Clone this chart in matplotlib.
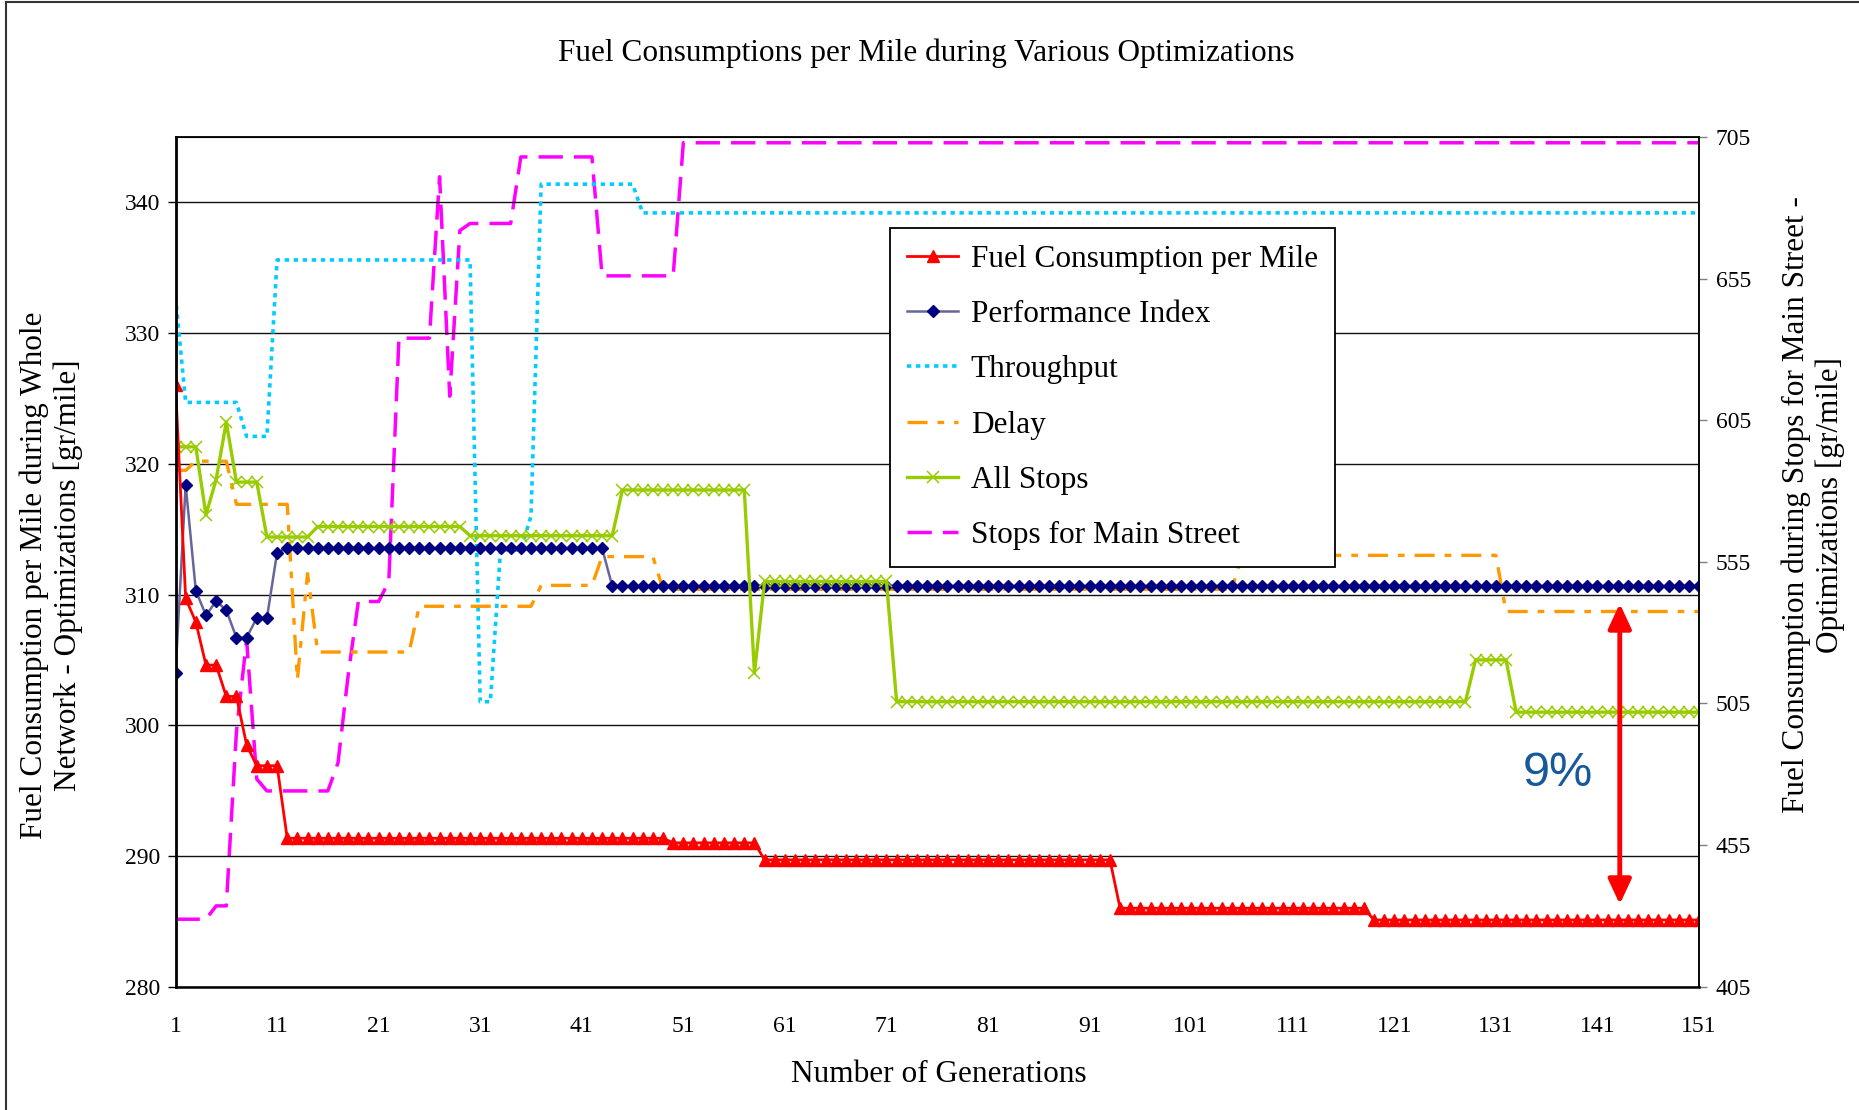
import numpy as np
import matplotlib.pyplot as plt
from matplotlib.lines import Line2D
from matplotlib.patches import FancyArrowPatch

plt.rcParams['font.family'] = ['Liberation Serif', 'DejaVu Serif']

# ---------- data: (value, number of generations) ----------
gens = np.arange(1, 152)

fuel_runs = [(326.0, 1), (309.7, 1), (307.9, 1), (304.6, 2), (302.2, 2), (298.5, 1),
             (296.9, 3), (291.35, 38), (291.0, 9), (289.7, 35), (286.0, 25), (285.1, 33)]

perf_runs = [(304.0, 1), (318.4, 1), (310.3, 1), (308.4, 1), (309.5, 1), (308.8, 1),
             (306.7, 2), (308.2, 2), (313.2, 1), (313.55, 32), (310.65, 108)]

thru_runs = [(332.8, 1), (324.7, 6), (322.1, 3), (335.6, 20), (301.8, 2), (313.4, 3),
             (316.0, 1), (341.4, 10), (339.2, 105)]

delay_runs = [(319.5, 2), (320.2, 4), (316.9, 6), (303.5, 1), (311.6, 1), (305.6, 10),
              (309.1, 12), (310.7, 6), (312.9, 6), (310.4, 57), (313.0, 26), (308.7, 20)]

stops_runs = [(321.3, 3), (316.1, 1), (318.8, 1), (323.2, 1), (318.6, 3), (314.4, 5),
              (315.2, 15), (314.5, 15), (318.0, 13), (304.0, 1), (311.0, 13), (301.8, 57),
              (305.0, 4), (301.0, 19)]

# secondary axis (right)
main_runs = [(428.8, 4), (433.5, 2), (495.0, 1), (527.5, 1), (478.3, 1), (474.1, 7),
             (484.0, 1), (515.0, 1), (541.0, 3), (548.0, 1), (634.0, 4), (691.0, 1),
             (613.5, 1), (672.0, 1), (674.5, 5), (698.0, 8), (656.0, 8), (703.0, 101)]


def expand(runs):
    vals, counts = zip(*runs)
    return np.repeat(vals, counts)


fuel = expand(fuel_runs)
perf = expand(perf_runs)
thru = expand(thru_runs)
delay = expand(delay_runs)
stops = expand(stops_runs)
main_st = expand(main_runs)

W, H = 1859, 1110
FS = 22.5
fig = plt.figure(figsize=(W / 100, H / 100), dpi=100)
ax = fig.add_axes([175.5 / W, 1 - 986.6 / H, (1699 - 175.5) / W, (986.6 - 137.1) / H])
ax2 = ax.twinx()
ax.set_zorder(ax2.get_zorder() + 1)
ax.patch.set_visible(False)

# secondary series (drawn below the others)
l_main, = ax2.plot(gens, main_st, color='#FF00FF', lw=2.5, dashes=(7, 3.2),
                   label='Stops for Main Street')

l_thru, = ax.plot(gens, thru, color='#00CCFF', lw=2.6, dashes=(1.2, 1.3), label='Throughput')
l_delay, = ax.plot(gens, delay, color='#FF9900', lw=2.4, dashes=(6, 3, 2, 3), label='Delay')
l_perf, = ax.plot(gens, perf, color='#666699', lw=1.8, marker='D', ms=6.5,
                  mfc='#000080', mec='#000080', label='Performance Index')
l_stops, = ax.plot(gens, stops, color='#99CC00', lw=2.4, marker='x', ms=8.5, mew=1.1,
                   mec='#99CC00', label='All Stops')
l_fuel, = ax.plot(gens, fuel, color='#FF0000', lw=2.0, marker='^', ms=8.5,
                  mfc='#FF0000', mec='#FF0000', label='Fuel Consumption per Mile')

ax.set_xlim(1, 151)
ax.set_ylim(280, 345)
ax2.set_ylim(405, 705)
ax.set_xticks(range(1, 152, 10))
ax.set_yticks(range(280, 341, 10))
ax2.set_yticks(range(405, 706, 50))
ax.yaxis.grid(True, color='#111111', lw=1.0)
ax.set_axisbelow(True)

ax.tick_params(axis='x', length=0, pad=21, labelsize=17)
ax.tick_params(axis='y', length=6, width=1, pad=5, labelsize=17, direction='out')
ax2.tick_params(axis='y', length=6, width=1, pad=6, labelsize=17, color='#808080')
for name, sp in ax.spines.items():
    sp.set_color('black')
    sp.set_linewidth(1.3)
ax.spines['left'].set_linewidth(2)
ax.spines['bottom'].set_linewidth(1.8)
ax2.spines['right'].set_color('#808080')
ax2.spines['right'].set_linewidth(1.3)

# 9% annotation
arrow = FancyArrowPatch((143.2, 286.3), (143.2, 309.3),
                        arrowstyle='<|-|>,head_length=0.75,head_width=0.35',
                        mutation_scale=20, color='#FF0000', lw=3.5, shrinkA=0, shrinkB=0,
                        zorder=6)
ax.add_patch(arrow)
ax.text(137.1, 296.3, '9%', fontsize=35, color='#17599A', family='Liberation Sans',
        ha='center', va='center')

# texts
fig.text(926 / W, 1 - 53.5 / H, 'Fuel Consumptions per Mile during Various Optimizations',
         fontsize=FS, ha='center', va='center')
fig.text(939 / W, 1 - 1075 / H, 'Number of Generations', fontsize=FS, ha='center', va='center')
fig.text(51.5 / W, 1 - 575 / H,
         'Fuel Consumption per Mile during Whole\nNetwork - Optimizations [gr/mile]',
         fontsize=FS, rotation=90, ha='center', va='center', multialignment='center')
fig.text(1813.5 / W, 1 - 505 / H,
         'Fuel Consumption during Stops for Main Street -\nOptimizations [gr/mile]',
         fontsize=FS, rotation=90, ha='center', va='center', multialignment='center')

handles = [l_fuel, l_perf, l_thru, l_delay, l_stops, l_main]
leg = fig.legend(handles, [h.get_label() for h in handles], loc='upper left',
                 bbox_to_anchor=(890 / W, 1 - 227.6 / H), borderaxespad=0, fontsize=FS,
                 frameon=True, fancybox=False, edgecolor='black', framealpha=1,
                 borderpad=0.55, handlelength=1.63, handletextpad=0.4, labelspacing=0.84)
leg.get_frame().set_linewidth(1.3)

# chart border (only the left and top edges are inside the picture)
fig.add_artist(Line2D([6 / W, 6 / W], [0, 1 - 1.5 / H], color='#333333', lw=1.5))
fig.add_artist(Line2D([6 / W, 1], [1 - 1.5 / H, 1 - 1.5 / H], color='#333333', lw=1.5))

fig.savefig('out.png', dpi=100)
